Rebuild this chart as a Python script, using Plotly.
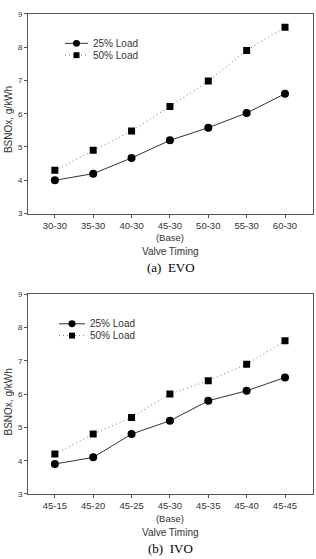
import plotly.graph_objects as go

cats_evo = ["30-30", "35-30", "40-30", "45-30", "50-30", "55-30", "60-30"]
evo_25 = [4.0, 4.2, 4.67, 5.2, 5.58, 6.02, 6.6]
evo_50 = [4.3, 4.9, 5.48, 6.22, 6.98, 7.9, 8.6]

cats_ivo = ["45-15", "45-20", "45-25", "45-30", "45-35", "45-40", "45-45"]
ivo_25 = [3.9, 4.1, 4.8, 5.2, 5.8, 6.1, 6.5]
ivo_50 = [4.2, 4.8, 5.3, 6.0, 6.4, 6.9, 7.6]

series_names = ["25% Load", "50% Load"]
base_idx = 3
W, H = 316, 559
LC = "#333333"
DC = "#777777"
AX = "#555555"

def py(px):
    return 1 - px / H

def pxx(px):
    return px / W

fig = go.Figure()
xi = list(range(7))

def add(xa, ya, y25, y50):
    fig.add_trace(go.Scatter(x=xi, y=y25, xaxis=xa, yaxis=ya, mode="lines+markers",
                             name=series_names[0], showlegend=False,
                             line=dict(color=LC, width=1),
                             marker=dict(symbol="circle", size=8, color="black")))
    fig.add_trace(go.Scatter(x=xi, y=y50, xaxis=xa, yaxis=ya, mode="lines+markers",
                             name=series_names[1], showlegend=False,
                             line=dict(color=DC, width=1, dash="1px,3px"),
                             marker=dict(symbol="square", size=7, color="black")))

add("x", "y", evo_25, evo_50)
add("x2", "y2", ivo_25, ivo_50)

def ticks(cats):
    return [c + ("<br>(Base)" if i == base_idx else "") for i, c in enumerate(cats)]

axcommon = dict(showline=True, linecolor=AX, linewidth=1, mirror=True, showgrid=False,
                zeroline=False, ticks="outside", ticklen=3, tickcolor=AX)

top = (10, 213)
bot = (295, 498)
xdom = [28 / W, 313 / W]

fig.update_layout(
    width=W, height=H, margin=dict(l=0, r=0, t=0, b=0),
    paper_bgcolor="white", plot_bgcolor="white", showlegend=False,
    font=dict(family="Arial, Liberation Sans, sans-serif", color="#333333"),
    xaxis=dict(domain=xdom, anchor="y", range=[-0.7, 6.73], tickvals=xi,
               ticktext=ticks(cats_evo), tickfont=dict(size=9.5), **axcommon),
    yaxis=dict(domain=[py(top[1]), py(top[0])], anchor="x", range=[3, 9], dtick=1,
               tickfont=dict(size=8), **axcommon),
    xaxis2=dict(domain=xdom, anchor="y2", range=[-0.7, 6.73], tickvals=xi,
                ticktext=ticks(cats_ivo), tickfont=dict(size=9.5), **axcommon),
    yaxis2=dict(domain=[py(bot[1]), py(bot[0])], anchor="x2", range=[3, 9], dtick=1,
                tickfont=dict(size=8), **axcommon),
)

anns = []
shapes = []
panels = [
    (top, 252, 268, "(a)  EVO", 118, (65, 88, 40, 52)),
    (bot, 537, 553, "(b)  IVO", 405, (59, 85, 325, 337)),
]
for (t0, t1), xt_y, cap_y, cap, ytc, (lx0, lx1, r1, r2) in panels:
    anns.append(dict(text="BSNOx, g/kWh", x=pxx(8), y=py(ytc), xref="paper", yref="paper",
                     textangle=-90, showarrow=False, font=dict(size=10), xanchor="center", yanchor="middle"))
    anns.append(dict(text="Valve Timing", x=pxx((28 + 313) / 2), y=py(xt_y), xref="paper", yref="paper",
                     showarrow=False, font=dict(size=10), xanchor="center", yanchor="middle"))
    anns.append(dict(text=cap, x=pxx((28 + 313) / 2), y=py(cap_y), xref="paper", yref="paper",
                     showarrow=False, font=dict(size=13, family="Liberation Serif, Times New Roman, serif",
                                               color="black"),
                     xanchor="center", yanchor="middle"))
    # legend
    cx = (lx0 + lx1) / 2
    shapes.append(dict(type="line", xref="paper", yref="paper", x0=pxx(lx0), x1=pxx(lx1),
                       y0=py(r1), y1=py(r1), line=dict(color=LC, width=1)))
    shapes.append(dict(type="circle", xref="paper", yref="paper", x0=pxx(cx - 3.5), x1=pxx(cx + 3.5),
                       y0=py(r1 + 3.5), y1=py(r1 - 3.5), fillcolor="black", line=dict(width=0)))
    shapes.append(dict(type="line", xref="paper", yref="paper", x0=pxx(lx0), x1=pxx(lx1),
                       y0=py(r2), y1=py(r2), line=dict(color=DC, width=1, dash="1px,3px")))
    shapes.append(dict(type="rect", xref="paper", yref="paper", x0=pxx(cx - 3), x1=pxx(cx + 3),
                       y0=py(r2 + 3), y1=py(r2 - 3), fillcolor="black", line=dict(width=0)))
    for nm, ry in zip(series_names, (r1, r2)):
        anns.append(dict(text=nm, x=pxx(lx1 + 3), y=py(ry), xref="paper", yref="paper",
                         showarrow=False, font=dict(size=10), xanchor="left", yanchor="middle"))

fig.update_layout(annotations=anns, shapes=shapes)

fig.write_html("out.html")
